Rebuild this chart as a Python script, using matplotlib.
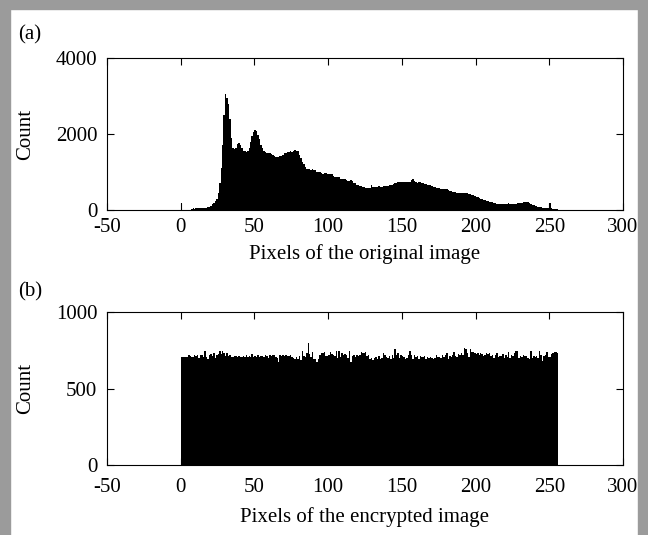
import numpy as np
import matplotlib
matplotlib.use("Agg")
import matplotlib.pyplot as plt
from matplotlib.patches import Rectangle

# ---- data (counts per grey level 0..255) ----
original_counts = [
    175, 0, 0, 0, 0, 0, 0, 30, 45, 20,
    50, 55, 40, 55, 50, 45, 60, 55, 70, 90,
    110, 150, 180, 230, 300, 450, 700, 1100, 1700, 2500,
    3050, 2950, 2800, 2400, 1900, 1620, 1600, 1620, 1740, 1760,
    1700, 1620, 1560, 1540, 1530, 1560, 1640, 1800, 1950, 2060,
    2100, 2080, 1980, 1860, 1720, 1620, 1560, 1530, 1500, 1490,
    1490, 1480, 1440, 1410, 1400, 1390, 1400, 1420, 1410, 1460,
    1500, 1510, 1520, 1530, 1540, 1530, 1550, 1570, 1560, 1540,
    1460, 1360, 1270, 1200, 1140, 1080, 1070, 1070, 1060, 1070,
    1060, 1050, 1010, 1000, 1010, 970, 960, 965, 970, 960,
    960, 950, 940, 890, 880, 880, 870, 860, 820, 810,
    820, 810, 780, 770, 775, 790, 760, 720, 700, 670,
    650, 630, 620, 615, 600, 590, 580, 570, 575, 650,
    600, 610, 615, 610, 620, 610, 600, 620, 630, 625,
    640, 650, 660, 670, 690, 700, 720, 730, 735, 730,
    740, 735, 730, 735, 740, 745, 780, 810, 760, 730,
    720, 745, 730, 720, 700, 690, 685, 670, 660, 645,
    630, 615, 600, 590, 575, 570, 560, 560, 555, 550,
    545, 520, 500, 490, 480, 475, 465, 455, 450, 445,
    450, 450, 455, 460, 450, 430, 415, 405, 395, 370,
    345, 330, 310, 300, 285, 270, 255, 245, 235, 220,
    210, 200, 195, 180, 165, 155, 150, 150, 145, 150,
    145, 150, 175, 160, 150, 145, 150, 160, 180, 185,
    190, 195, 200, 210, 220, 200, 185, 165, 140, 125,
    110, 95, 85, 75, 70, 65, 60, 55, 50, 60,
    175, 40, 30, 25, 20, 15,
]

encrypted_counts = [
    705, 705, 705, 705, 705, 720, 712, 705, 704, 716,
    712, 716, 700, 718, 722, 708, 745, 703, 690, 722,
    727, 715, 735, 700, 722, 728, 748, 726, 742, 735,
    714, 730, 712, 720, 708, 706, 712, 710, 706, 711,
    706, 706, 712, 708, 722, 705, 712, 708, 726, 704,
    712, 706, 716, 708, 710, 714, 708, 716, 712, 702,
    717, 714, 716, 718, 704, 698, 672, 718, 715, 718,
    714, 720, 712, 712, 718, 704, 700, 695, 705, 692,
    712, 686, 745, 712, 706, 730, 795, 728, 708, 740,
    690, 692, 670, 690, 720, 735, 734, 736, 712, 710,
    716, 740, 724, 716, 712, 742, 700, 745, 706, 735,
    716, 725, 718, 700, 748, 675, 710, 720, 706, 720,
    712, 716, 740, 735, 735, 740, 715, 716, 690, 700,
    688, 700, 703, 692, 710, 690, 700, 730, 716, 705,
    702, 712, 690, 720, 700, 755, 716, 735, 698, 716,
    712, 706, 690, 700, 718, 745, 722, 690, 722, 704,
    710, 690, 715, 705, 705, 710, 696, 704, 700, 708,
    700, 690, 700, 718, 704, 705, 700, 718, 705, 716,
    730, 690, 712, 705, 718, 740, 712, 708, 728, 716,
    734, 720, 765, 760, 730, 706, 755, 740, 736, 730,
    726, 734, 718, 735, 728, 712, 716, 732, 724, 730,
    710, 716, 702, 718, 734, 705, 714, 712, 726, 702,
    720, 705, 738, 700, 720, 712, 735, 742, 745, 698,
    715, 705, 720, 715, 712, 700, 690, 745, 702, 712,
    704, 712, 698, 745, 720, 680, 715, 718, 740, 705,
    706, 728, 735, 740, 738, 735,
]

x_ticks = [-50, 0, 50, 100, 150, 200, 250, 300]
top_yticks = [0, 2000, 4000]
bottom_yticks = [0, 500, 1000]
panel_labels = ["(a)", "(b)"]
x_labels = ["Pixels of the original image", "Pixels of the encrypted image"]

plt.rcParams['font.family'] = ['Liberation Serif', 'DejaVu Serif']
FS = 15

W, H = 648, 535
fig = plt.figure(figsize=(W / 100, H / 100), dpi=100)

# grey frame
grey = '#9b9b9b'
fig.patches.append(Rectangle((0, 0), 10 / W, 1, transform=fig.transFigure, color=grey, zorder=0))
fig.patches.append(Rectangle((0, 1 - 9 / H), 1, 9 / H, transform=fig.transFigure, color=grey, zorder=0))
fig.patches.append(Rectangle((638 / W, 0), 10 / W, 1, transform=fig.transFigure, color=grey, zorder=0))

def px_axes(left, top, right, bottom):
    return fig.add_axes([left / W, 1 - bottom / H, (right - left) / W, (bottom - top) / H])

ax1 = px_axes(107, 58, 623, 210)
ax2 = px_axes(107, 312, 623, 465)

edges = np.arange(257)

for ax, counts, yt, xl, xlab_off, xpad in [
    (ax1, original_counts, top_yticks, x_labels[0], -34 / 152, 6),
    (ax2, encrypted_counts, bottom_yticks, x_labels[1], -42 / 153, 9),
]:
    ax.stairs(counts, edges, fill=True, color='black', linewidth=0)
    ax.set_xlim(-50, 300)
    ax.set_ylim(yt[0], yt[-1])
    ax.set_xticks(x_ticks)
    ax.set_xticklabels([str(v) for v in x_ticks])
    ax.set_yticks(yt)
    ax.tick_params(direction='in', top=True, right=True, length=5, width=0.8,
                   labelsize=FS)
    ax.tick_params(axis='x', pad=xpad)
    ax.tick_params(axis='y', pad=7)
    ax.set_xlabel(xl, fontsize=FS)
    ax.set_ylabel("Count", fontsize=FS)
    ax.xaxis.set_label_coords(0.5, xlab_off, transform=ax.transAxes)
    ax.yaxis.set_label_coords(-72 / 516, 0.5, transform=ax.transAxes)
    for s in ax.spines.values():
        s.set_linewidth(0.8)

fig.text(18 / W, 1 - 35 / H, panel_labels[0], fontsize=FS, ha='left', va='center')
fig.text(18 / W, 1 - 292 / H, panel_labels[1], fontsize=FS, ha='left', va='center')

fig.savefig("out.png", dpi=100)
